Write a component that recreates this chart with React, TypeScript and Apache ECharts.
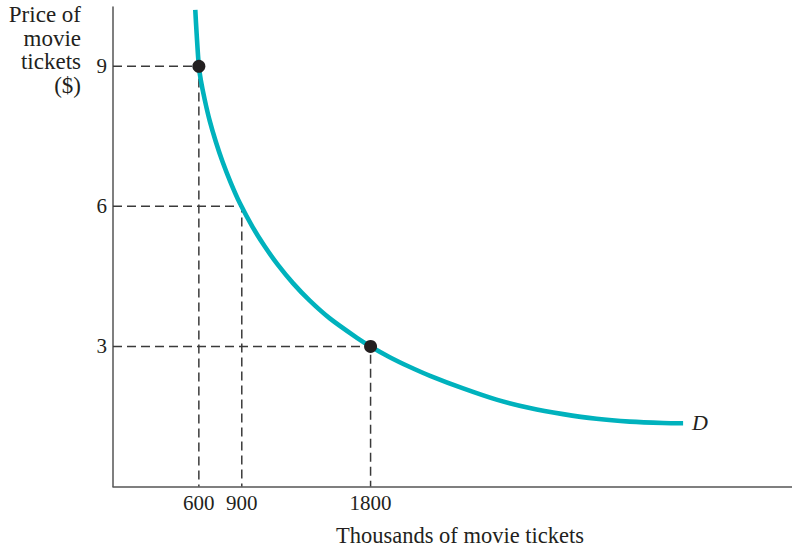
import React, { useEffect, useRef } from "react";
import * as echarts from "echarts";

// Demand curve D (thousands of tickets, $)
const quantity = [575, 584, 600, 614, 642, 676, 718, 765, 821, 886, 975, 1061, 1154, 1259, 1375, 1515, 1702, 1800, 1934, 2071, 2216, 2447, 2680, 2913, 3145, 3379, 3611, 3844, 3984];
const price = [10.21, 9.72, 9.0, 8.7, 8.27, 7.83, 7.39, 6.96, 6.52, 6.07, 5.56, 5.14, 4.74, 4.35, 3.98, 3.6, 3.19, 3.0, 2.77, 2.565, 2.37, 2.1, 1.86, 1.68, 1.55, 1.45, 1.39, 1.36, 1.355];

// Guide points (dashed lines)
const guideQ = [600, 900, 1800];
const guideP = [9, 6, 3];

// Highlighted points
const dotQ = [600, 1800];
const dotP = [9, 3];

const xTickLabels = ["600", "900", "1800"];
const yTickLabels = ["3", "6", "9"];

const FONT = "'Liberation Serif', 'Times New Roman', serif";
const INK = "#231f20";

export default function App() {
  const ref = useRef<HTMLDivElement>(null);
  useEffect(() => {
    if (!ref.current) return;
    const chart = echarts.init(ref.current, undefined, { renderer: "svg" });

    const guideSeries = guideQ.map((q, i) => ({
      type: "line",
      data: [
        [0, guideP[i]],
        [q, guideP[i]],
        [q, 0],
      ],
      symbol: "none",
      silent: true,
      z: 1,
      lineStyle: { color: "#3a3a3a", width: 1.5, type: [9, 5] },
    }));

    chart.setOption({
      animation: false,
      backgroundColor: "#fff",
      grid: {
        left: 113,
        top: 7,
        width: 679,
        height: 479.5,
        containLabel: false,
        outerBoundsMode: "none",
      },
      xAxis: {
        type: "value",
        min: 0,
        max: 4745,
        interval: 300,
        name: "Thousands of movie tickets",
        nameLocation: "middle",
        nameGap: 37,
        nameTextStyle: { fontFamily: FONT, fontSize: 22.5, color: INK, padding: [0, 0, 0, 15] },
        axisLine: { show: true, lineStyle: { color: "#555", width: 1.5 } },
        axisTick: { show: false },
        splitLine: { show: false },
        axisLabel: {
          margin: 6,
          fontFamily: FONT,
          fontSize: 21,
          color: INK,
          showMaxLabel: false,
          formatter: (v: number) => (xTickLabels.includes(String(v)) ? String(v) : ""),
        },
      },
      yAxis: {
        type: "value",
        min: 0,
        max: 10.27,
        interval: 3,
        axisLine: { show: true, lineStyle: { color: "#555", width: 1.5 } },
        axisTick: { show: false },
        splitLine: { show: false },
        axisLabel: {
          margin: 6,
          fontFamily: FONT,
          fontSize: 21,
          color: INK,
          showMaxLabel: false,
          formatter: (v: number) => (yTickLabels.includes(String(v)) ? String(v) : ""),
        },
      },
      graphic: [
        {
          type: "text",
          x: 81,
          y: 3,
          style: {
            text: "Price of\nmovie\ntickets\n($)",
            fontFamily: FONT,
            fontSize: 23,
            lineHeight: 23.5,
            fill: INK,
            textAlign: "right",
            textVerticalAlign: "top",
            align: "right",
            verticalAlign: "top",
          },
        },
      ],
      series: [
        ...guideSeries,
        {
          type: "line",
          name: "D",
          data: quantity.map((q, i) => [q, price[i]]),
          symbol: "none",
          smooth: 0.3,
          z: 3,
          lineStyle: { color: "#00b2bd", width: 4.6, cap: "butt" },
          endLabel: {
            show: true,
            formatter: "D",
            distance: 9,
            offset: [0, -1],
            fontFamily: FONT,
            fontSize: 22,
            fontStyle: "italic",
            color: INK,
          },
        },
        {
          type: "scatter",
          data: dotQ.map((q, i) => [q, dotP[i]]),
          symbol: "circle",
          symbolSize: 13,
          z: 5,
          itemStyle: { color: INK, opacity: 1 },
        },
      ],
    });
    return () => chart.dispose();
  }, []);
  return (
    <div
      ref={ref}
      style={{ position: "fixed", left: 0, top: 0, width: 792, height: 547, background: "#fff" }}
    />
  );
}
